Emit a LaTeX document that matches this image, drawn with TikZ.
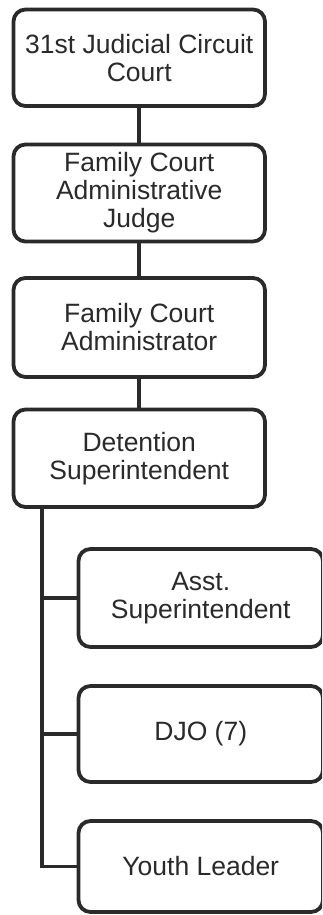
\documentclass[tikz,border=0pt]{standalone}
\usepackage{fontspec}
\setmainfont{Liberation Sans}
\definecolor{ink}{HTML}{2A2A2A}
\begin{document}
\begin{tikzpicture}[x=1pt,y=-1pt,
  box/.style={draw=ink, line width=3.8pt, rounded corners=12pt, fill=white,
    text=ink, align=center, inner sep=0pt,
    font=\fontsize{26.5}{28}\selectfont},
  link/.style={draw=ink, line width=3.8pt}]
  \useasboundingbox (0,0) rectangle (322,915);
  \clip (0,0) rectangle (322,915);

  % main chain of command
  \node[box, minimum width=251.5pt, minimum height=96.5pt] (court) at (139.25,57.75)
    {31st Judicial Circuit\\Court};
  \node[box, minimum width=251.5pt, minimum height=97pt] (judge) at (139.25,193)
    {Family Court\\Administrative\\Judge};
  \node[box, minimum width=251.5pt, minimum height=99pt] (admin) at (139.25,327.5)
    {Family Court\\Administrator};
  \node[box, minimum width=251.5pt, minimum height=97.5pt] (super) at (139.25,458.25)
    {Detention\\Superintendent};

  % staff reporting to the superintendent
  \node[box, minimum width=244.5pt, minimum height=98pt] (asst) at (200.75,598)
    {Asst.\\Superintendent};
  \node[box, minimum width=244.5pt, minimum height=96pt] (djo) at (200.75,734)
    {DJO (7)};
  \node[box, minimum width=244.5pt, minimum height=91pt] (youth) at (200.75,866.5)
    {Youth Leader};

  \draw[link] (court.south) -- (judge.north);
  \draw[link] (judge.south) -- (admin.north);
  \draw[link] (admin.south) -- (super.north);

  \coordinate (trunk) at (42,507);
  \draw[link] (trunk) |- (youth.west);
  \draw[link] (trunk |- asst.west) -- (asst.west);
  \draw[link] (trunk |- djo.west) -- (djo.west);
\end{tikzpicture}
\end{document}
